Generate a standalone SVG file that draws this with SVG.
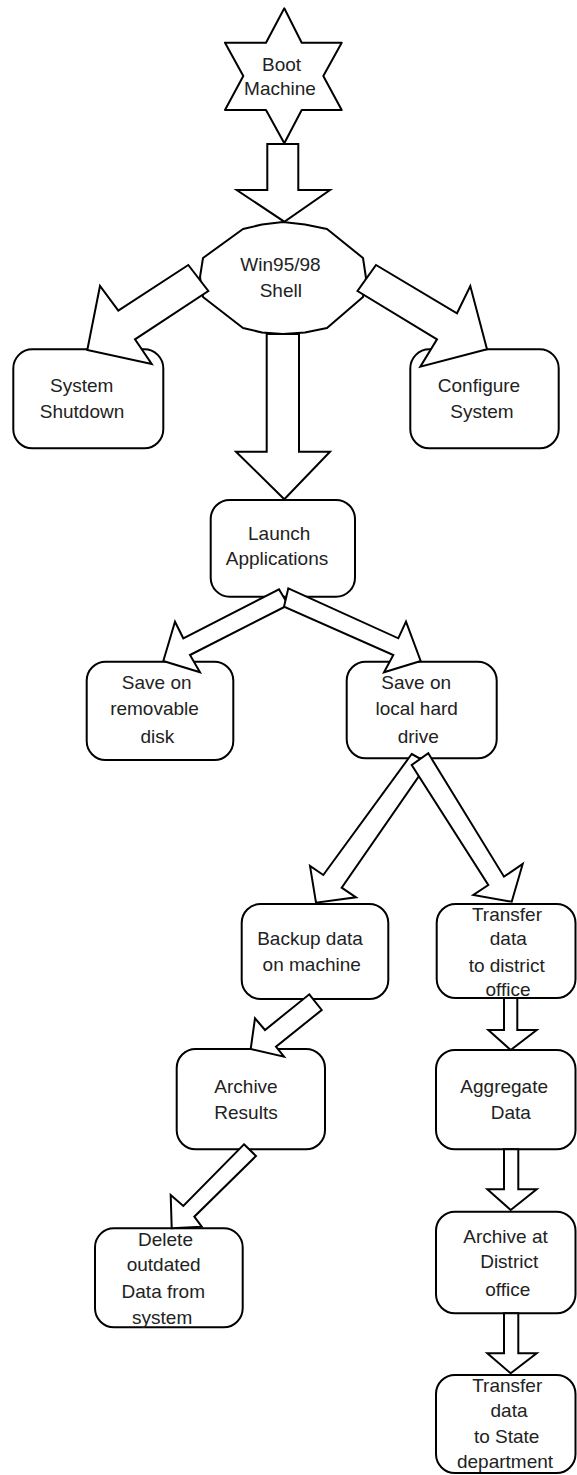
<svg xmlns="http://www.w3.org/2000/svg" width="577" height="1475" viewBox="0 0 577 1475">
<style>
.s{fill:#fff;stroke:#000;stroke-width:2;stroke-linejoin:round}
.a{fill:#fff;stroke:#000;stroke-width:2;stroke-linejoin:miter}
.t{font-family:"Liberation Sans",Arial,sans-serif;font-size:19px;text-anchor:middle;fill:#222}
</style>
<rect x="0" y="0" width="577" height="1475" fill="#fff"/>
<g id="boot">
<polygon class="s" points="284.3,8.3 301.7,42.7 341.7,42.7 323.3,76 341.7,110 301.7,110 284.3,143.3 266,110 225,110 243.3,76 225,42.7 266,42.7"/>
<text class="t" x="281.5" y="70.5">Boot</text>
<text class="t" x="280" y="95">Machine</text>
</g>
<g id="shell">
<polygon class="s" points="243,229 262,224.5 283,222 305,224.5 327,229 363,258 366,278 363,297 327,328 305,332.5 283,334 262,332.5 243,328 203,297 200,277 203,258"/>
<text class="t" x="280.5" y="271">Win95/98</text>
<text class="t" x="280.8" y="296.7">Shell</text>
</g>
<g id="shutdown">
<rect class="s" x="13.3" y="349.3" width="150" height="99" rx="19" ry="19"/>
<text class="t" x="81.7" y="392.3">System</text>
<text class="t" x="82" y="418.3">Shutdown</text>
</g>
<g id="configure">
<rect class="s" x="410.3" y="349.3" width="148.4" height="99" rx="19" ry="19"/>
<text class="t" x="479" y="392.3">Configure</text>
<text class="t" x="482" y="417.5">System</text>
</g>
<g id="launch">
<rect class="s" x="210.7" y="500" width="144.3" height="96.7" rx="19" ry="19"/>
<text class="t" x="279.2" y="540">Launch</text>
<text class="t" x="277" y="565">Applications</text>
</g>
<g id="removable">
<rect class="s" x="86.7" y="661.7" width="146.6" height="98.3" rx="19" ry="19"/>
<text class="t" x="156.7" y="689">Save on</text>
<text class="t" x="154.5" y="715">removable</text>
<text class="t" x="157.3" y="742.7">disk</text>
</g>
<g id="local">
<rect class="s" x="346.7" y="661.7" width="150" height="96.6" rx="19" ry="19"/>
<text class="t" x="416.2" y="689">Save on</text>
<text class="t" x="416.7" y="715">local hard</text>
<text class="t" x="418.3" y="743">drive</text>
</g>
<g id="backup">
<rect class="s" x="241.7" y="904" width="146.6" height="95" rx="19" ry="19"/>
<text class="t" x="310" y="945">Backup data</text>
<text class="t" x="311.7" y="971">on machine</text>
</g>
<g id="transfer-district">
<rect class="s" x="436.7" y="904" width="138.8" height="94" rx="19" ry="19"/>
<text class="t" x="507" y="921">Transfer</text>
<text class="t" x="508.3" y="945">data</text>
<text class="t" x="506.7" y="971.5">to district</text>
<text class="t" x="508" y="996">office</text>
</g>
<g id="archive-results">
<rect class="s" x="176.7" y="1049" width="148.3" height="100.3" rx="19" ry="19"/>
<text class="t" x="246" y="1093.3">Archive</text>
<text class="t" x="246" y="1119">Results</text>
</g>
<g id="aggregate">
<rect class="s" x="436" y="1050" width="139.5" height="99.3" rx="19" ry="19"/>
<text class="t" x="504.2" y="1093.3">Aggregate</text>
<text class="t" x="510.8" y="1119">Data</text>
</g>
<g id="archive-district">
<rect class="s" x="436" y="1211.7" width="139.5" height="101.6" rx="19" ry="19"/>
<text class="t" x="505.5" y="1242.7">Archive at</text>
<text class="t" x="509.2" y="1268.3">District</text>
<text class="t" x="507.8" y="1295.7">office</text>
</g>
<g id="transfer-state">
<rect class="s" x="436" y="1375" width="139.5" height="98" rx="19" ry="19"/>
<text class="t" x="507.2" y="1391.7">Transfer</text>
<text class="t" x="509" y="1417.3">data</text>
<text class="t" x="506.7" y="1442.7">to State</text>
<text class="t" x="505" y="1468.3">department</text>
</g>
<g id="delete">
<rect class="s" x="95" y="1228.3" width="147.7" height="99" rx="19" ry="19"/>
<text class="t" x="165.5" y="1246">Delete</text>
<text class="t" x="163.7" y="1271">outdated</text>
<text class="t" x="163.3" y="1298.3">Data from</text>
<text class="t" x="162.2" y="1324">system</text>
</g>
<g id="connectors">
<polygon class="a" points="267.3,144 298.3,144 298.3,190 330,190 284.3,221.7 236.7,190 267.3,190"/>
<polygon class="a" points="188.3,265 208.3,291 135,339.3 151.7,364 87.3,350 100,286 118.3,310.7"/>
<polygon class="a" points="376,265 357.5,291 437,339.3 420.3,366.7 487,349.3 470.3,286 457,313.3"/>
<polygon class="a" points="266.7,334 299,334 299,451.7 330,451.7 284.3,499.3 236,451.7 266.7,451.7"/>
<polygon class="a" points="279,589.3 288.3,605 190,655 200,672.3 163.3,661 175,621.7 183.3,638.3"/>
<polygon class="a" points="288.3,588.3 398.3,638.3 406,621.7 420.7,661 384,672.3 393.3,655 284,606.7"/>
<polygon class="a" points="411.7,754 428,763 341.7,887.7 356,897.3 316,902.7 310,866 323.3,875"/>
<polygon class="a" points="428.3,753.3 504,876.7 522.7,864 511.7,901.7 473.3,895 488.3,885 411.7,765"/>
<polygon class="a" points="309.3,994.3 321.7,1010 276,1046.7 284,1056.7 250.7,1049 255,1018.3 265,1030"/>
<polygon class="a" points="504,998 517.3,998 517.3,1030 536.7,1030 510.7,1050 488.3,1030 504,1030"/>
<polygon class="a" points="244,1144.3 256,1156 194.3,1216.7 201.7,1226.7 171.7,1228.3 170.7,1195 183.3,1206"/>
<polygon class="a" points="504,1149.3 518.3,1149.3 518.3,1189.3 536.7,1189.3 510.7,1210 487.3,1189.3 504,1189.3"/>
<polygon class="a" points="504,1313.3 518.3,1313.3 518.3,1353.3 536.7,1353.3 510.7,1373.3 487.3,1353.3 504,1353.3"/>
</g>
</svg>
